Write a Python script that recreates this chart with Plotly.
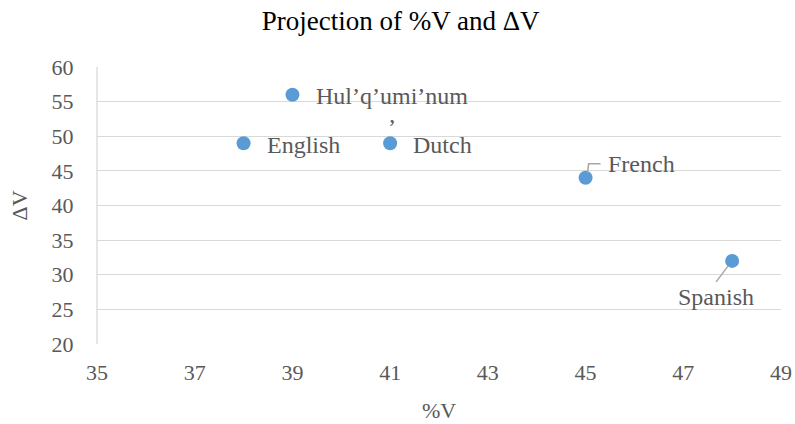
import plotly.graph_objects as go

languages = ["English", "Hul’q’umi’num<br>’", "Dutch", "French", "Spanish"]
pct_v = [38, 39, 41, 45, 48]
delta_v = [49, 56, 49, 44, 32]
x_ticks = [35, 37, 39, 41, 43, 45, 47, 49]
y_ticks = [20, 25, 30, 35, 40, 45, 50, 55, 60]

FONT = "Liberation Serif, Times New Roman, serif"
GRAY = "#595959"
BLUE = "#5b9bd5"

W, H = 795, 424

fig = go.Figure()
fig.add_trace(go.Scatter(
    x=pct_v, y=delta_v, mode="markers",
    marker=dict(size=14, color=BLUE), hoverinfo="skip", showlegend=False))

# label placement offsets (pixels) per point
label_cfg = {
    "English": dict(xshift=21, yshift=-2, xanchor="left", yanchor="middle", align="left"),
    "Hul’q’umi’num<br>’": dict(xshift=22, yshift=14, xanchor="left", yanchor="top", align="center"),
    "Dutch": dict(xshift=21, yshift=-2, xanchor="left", yanchor="middle", align="left"),
    "French": dict(xshift=20, yshift=14, xanchor="left", yanchor="middle", align="left"),
    "Spanish": dict(xshift=-16, yshift=-36, xanchor="center", yanchor="middle", align="center"),
}
for name, x, y in zip(languages, pct_v, delta_v):
    cfg = label_cfg[name]
    fig.add_annotation(x=x, y=y, xref="x", yref="y", text=name, showarrow=False,
                       font=dict(family=FONT, size=24, color=GRAY), **cfg)

# leader lines (pixel offsets relative to the data point)
fig.add_shape(type="path", xref="x", yref="y", xsizemode="pixel", ysizemode="pixel",
              xanchor=pct_v[3], yanchor=delta_v[3],
              path="M 2 5 L 3 14 L 15 14", line=dict(color="#a6a6a6", width=1.5))
fig.add_shape(type="path", xref="x", yref="y", xsizemode="pixel", ysizemode="pixel",
              xanchor=pct_v[4], yanchor=delta_v[4],
              path="M -4 -5 L -16 -21", line=dict(color="#a6a6a6", width=1.5))

# axis titles
fig.add_annotation(text="%V", xref="paper", yref="paper", x=0.5, y=0, yshift=-66,
                   xanchor="center", yanchor="middle", showarrow=False,
                   font=dict(family=FONT, size=22, color=GRAY))
fig.add_annotation(text="ΔV", xref="paper", yref="paper", x=0, y=0.5, xshift=-78,
                   xanchor="center", yanchor="middle", textangle=-90, showarrow=False,
                   font=dict(family=FONT, size=22, color=GRAY))

fig.update_layout(
    width=W, height=H,
    margin=dict(l=97, r=14, t=67, b=80, autoexpand=False),
    paper_bgcolor="white", plot_bgcolor="white",
    title=dict(text="Projection of %V and ΔV", x=0.504, xref="container", xanchor="center",
               y=0.951, yref="container", yanchor="middle", automargin=False,
               font=dict(family=FONT, size=27, color="#000000")),
    xaxis=dict(range=[35, 49], tickvals=x_ticks, ticktext=[str(v) for v in x_ticks],
               showgrid=False, zeroline=False, showline=False, automargin=False,
               ticks="outside", ticklen=9, tickcolor="rgba(0,0,0,0)",
               tickfont=dict(family=FONT, size=22, color=GRAY)),
    yaxis=dict(range=[20, 60], tickvals=y_ticks, ticktext=[str(v) for v in y_ticks],
               showgrid=True, gridcolor="#d9d9d9", gridwidth=1, zeroline=False,
               showline=False, automargin=False,
               ticks="outside", ticklen=18, tickcolor="rgba(0,0,0,0)",
               tickfont=dict(family=FONT, size=22, color=GRAY)),
)
# vertical axis line at x=35 (left)
fig.add_shape(type="line", xref="paper", yref="paper", x0=0, x1=0, y0=0, y1=1,
              line=dict(color="#d9d9d9", width=1.3))

fig.write_html("out.html",
               config={"displayModeBar": False},
               post_script="document.body.style.margin='0';document.body.style.overflow='hidden';")
